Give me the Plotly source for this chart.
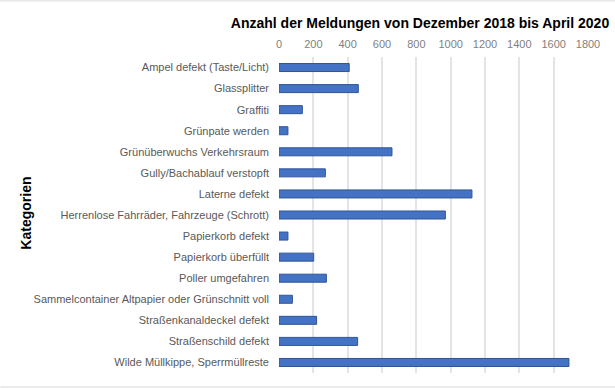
import plotly.graph_objects as go

categories = [
    "Ampel defekt (Taste/Licht)",
    "Glassplitter",
    "Graffiti",
    "Grünpate werden",
    "Grünüberwuchs Verkehrsraum",
    "Gully/Bachablauf verstopft",
    "Laterne defekt",
    "Herrenlose Fahrräder, Fahrzeuge (Schrott)",
    "Papierkorb defekt",
    "Papierkorb überfüllt",
    "Poller umgefahren",
    "Sammelcontainer Altpapier oder Grünschnitt voll",
    "Straßenkanaldeckel defekt",
    "Straßenschild defekt",
    "Wilde Müllkippe, Sperrmüllreste",
]
counts = [409, 462, 136, 52, 658, 270, 1124, 969, 52, 202, 276, 78, 219, 458, 1689]
x_ticks = [0, 200, 400, 600, 800, 1000, 1200, 1400, 1600, 1800]

title_text = "Anzahl der Meldungen von Dezember 2018 bis April 2020"
y_title = "Kategorien"

FONT = "Liberation Sans, Arial, sans-serif"

fig = go.Figure(
    go.Bar(
        x=counts,
        y=categories,
        orientation="h",
        marker=dict(color="#4472C4", line=dict(color="#2F5597", width=1)),
        hoverinfo="x+y",
    )
)

W, H = 615, 388
L, R, T, B = 278.7, 27.3, 56.6, 15.3
pw, ph = W - L - R, H - T - B

fig.update_layout(
    width=W,
    height=H,
    margin=dict(l=L, r=R, t=T, b=B, autoexpand=False),
    paper_bgcolor="white",
    plot_bgcolor="white",
    bargap=0.62,
    showlegend=False,
    font=dict(family=FONT, size=11, color="#595959"),
    title=dict(
        text=title_text,
        font=dict(family=FONT, size=14, color="#000000", weight="bold"),
        xref="container",
        x=420 / W,
        xanchor="center",
        yref="container",
        y=1 - 23 / H,
        yanchor="middle",
    ),
    xaxis=dict(
        side="top",
        range=[0, 1800],
        tickvals=x_ticks,
        ticktext=[str(v) for v in x_ticks],
        showgrid=True,
        gridcolor="#E4E4E4",
        gridwidth=1.5,
        zeroline=False,
        showline=False,
        ticks="",
        ticklabelstandoff=6,
        tickfont=dict(family=FONT, size=11, color="#7F7F7F"),
        automargin=False,
        fixedrange=True,
    ),
    yaxis=dict(
        autorange="reversed",
        showgrid=False,
        zeroline=False,
        showline=False,
        ticks="",
        ticklabelstandoff=9,
        tickfont=dict(family=FONT, size=11, color="#595959"),
        automargin=False,
        fixedrange=True,
    ),
    annotations=[
        dict(
            text=y_title,
            xref="paper",
            yref="paper",
            x=(26 - L) / pw,
            y=(H - B - 213) / ph,
            xanchor="center",
            yanchor="middle",
            textangle=-90,
            showarrow=False,
            font=dict(family=FONT, size=14, color="#000000", weight="bold"),
        )
    ],
    shapes=[
        dict(type="line", xref="paper", yref="paper",
             x0=-L / pw, x1=(W - L) / pw,
             y0=(H - B - 0.5) / ph, y1=(H - B - 0.5) / ph,
             line=dict(color="#D9D9D9", width=1)),
        dict(type="line", xref="paper", yref="paper",
             x0=-L / pw, x1=(W - L) / pw,
             y0=(H - B - 386.7) / ph, y1=(H - B - 386.7) / ph,
             line=dict(color="#D9D9D9", width=1)),
    ],
)

fig.write_html(
    "out.html",
    config={"displayModeBar": False},
    post_script="document.body.style.margin='0';document.body.style.overflow='hidden';",
)
